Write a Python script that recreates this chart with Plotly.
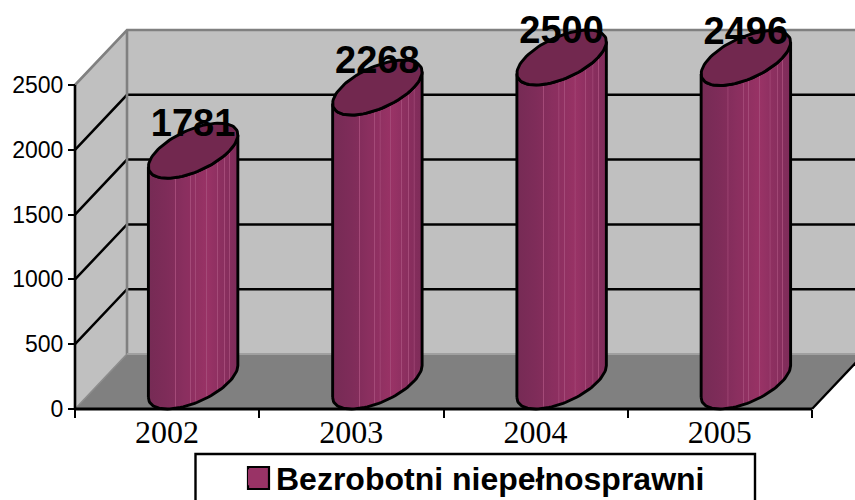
import numpy as np
import plotly.graph_objects as go

categories = ["2002", "2003", "2004", "2005"]
series_name = "Bezrobotni niepełnosprawni"
values = [1781, 2268, 2500, 2496]
y_ticks = [0, 500, 1000, 1500, 2000, 2500]

W, H = 855, 500
PX_CAT = 184.25      # px per category
PX_VAL = 0.1296      # px per value unit
X0, Y0 = 75, 409     # pixel position of the origin
DX = 52 / PX_CAT     # oblique depth
DY = 55 / PX_VAL
n = len(categories)
ymax = y_ticks[-1]
xr = [-X0 / PX_CAT, (W - X0) / PX_CAT]
yr = [-(H - Y0) / PX_VAL, Y0 / PX_VAL]
RX = 36.4 / PX_CAT
SX, SY = DX / 2, DY / 2
WIDE = float(np.hypot(RX, SX))
T0 = float(np.arctan2(SX, RX))
LABEL_DROP = 3.5 / PX_VAL

fig = go.Figure()


def poly(xs, ys, fill=None, line=None, lw=2):
    fig.add_trace(go.Scatter(
        x=xs, y=ys, mode="lines", showlegend=False, hoverinfo="skip",
        fill="toself" if fill else None, fillcolor=fill,
        line=dict(color=line or "rgba(0,0,0,0)", width=lw if line else 0)))


# walls and floor
poly([DX, n + DX, n + DX, DX, DX], [DY, DY, ymax + DY, ymax + DY, DY], "#C0C0C0")
poly([0, DX, DX, 0, 0], [0, DY, ymax + DY, ymax, 0], "#C0C0C0")
poly([0, n, n + DX, DX, 0], [0, 0, DY, DY, 0], "#808080")

# grid lines on the side and back walls
for t in y_ticks[1:-1]:
    poly([0, DX, n + DX], [t, t + DY, t + DY], line="#000000", lw=2.5)

# wall edges
poly([0, DX, n + DX], [ymax, ymax + DY, ymax + DY], line="#808080", lw=2.6)
poly([DX, DX], [DY, ymax + DY], line="#808080", lw=2.6)
poly([DX, n + DX], [DY, DY], line="#A0A0A0", lw=2)
poly([0, DX], [0, DY], line="#8c8c8c", lw=1.6)
poly([n, n + DX], [0, DY], line="#000000", lw=2.4)
poly([0, 0], [0, ymax], line="#000000", lw=2.6)
poly([0, n], [0, 0], line="#000000", lw=2.8)

# cylinder shading, left to right across the body
base = [(0.0, "#762B55"), (0.2, "#7E2C59"), (0.4, "#8A2F5F"),
        (0.66, "#993366"), (0.9, "#862E5D"), (1.0, "#7E2C59")]
stripe = "#A44A78"
stripe_pos = [0.30, 0.47, 0.53, 0.65, 0.77, 0.85, 0.91]


def shade_at(u):
    us = [b[0] for b in base]
    rgb = [[int(b[1][i:i + 2], 16) for i in (1, 3, 5)] for b in base]
    c = [int(np.interp(u, us, [r[k] for r in rgb])) for k in range(3)]
    return "rgb(%d,%d,%d)" % tuple(c)


scale = []
plain = [b[0] for b in base if b[0] not in stripe_pos]
marks = [(u, False) for u in plain]
for s in stripe_pos:
    marks += [(s - 0.007, False), (s - 0.003, True), (s + 0.003, True), (s + 0.007, False)]
for u, on in sorted(marks):
    scale.append([u, stripe if on else shade_at(u)])

for i, v in enumerate(values):
    cx = i + 0.5 + DX / 2
    t = np.linspace(T0 + np.pi, T0 + 2 * np.pi, 50)
    ax = cx + RX * np.cos(t) + SX * np.sin(t)
    ay = SY + SY * np.sin(t)
    xs = np.concatenate([ax, ax[::-1], ax[:1]])
    ys = np.concatenate([ay, (ay + v)[::-1], ay[:1]])
    fig.add_trace(go.Scatter(
        x=xs, y=ys, mode="lines", fill="toself", showlegend=False, hoverinfo="skip",
        fillgradient=dict(type="horizontal", colorscale=scale,
                          start=cx - WIDE, stop=cx + WIDE),
        line=dict(color="#000000", width=2.9)))
    t = np.linspace(0, 2 * np.pi, 90)
    poly(cx + RX * np.cos(t) + SX * np.sin(t), v + SY + SY * np.sin(t),
         "#72284F", "#000000", 2.9)

# data labels
fig.add_trace(go.Scatter(
    x=[i + 0.5 + DX / 2 for i in range(n)], y=[v + DY - LABEL_DROP for v in values],
    text=[str(v) for v in values], mode="text", showlegend=False, hoverinfo="skip",
    cliponaxis=False,
    textfont=dict(family="Liberation Sans", size=38, color="#000000", weight="bold")))

# legend entry: its key sits on the larger outlined swatch drawn as a shape below
fig.add_trace(go.Scatter(
    x=[None], y=[None], mode="markers", name=series_name,
    marker=dict(symbol="square", size=16, color="#993366",
                line=dict(color="#993366", width=0))))

fig.add_shape(type="rect", xref="paper", yref="paper",
              x0=195.5 / W, x1=755 / W, y0=-0.02, y1=1 - 454 / H,
              line=dict(color="#000000", width=2.4), fillcolor="rgba(0,0,0,0)", layer="above")
fig.add_shape(type="rect", xref="paper", yref="paper",
              x0=248 / W, x1=269 / W, y0=1 - 489 / H, y1=1 - 467 / H,
              line=dict(color="#000000", width=2.2), fillcolor="#993366", layer="above")

fig.update_layout(
    width=W, height=H, margin=dict(l=0, r=0, t=0, b=0, pad=0, autoexpand=False),
    paper_bgcolor="#FFFFFF", plot_bgcolor="#FFFFFF",
    showlegend=True,
    legend=dict(x=236 / W, y=1 - 477.5 / H, xanchor="left", yanchor="middle",
                bgcolor="rgba(0,0,0,0)", borderwidth=0,
                font=dict(family="Liberation Sans", size=32, color="#000000", weight="bold")),
    xaxis=dict(range=xr, anchor="free", position=1 - Y0 / H, showgrid=False, zeroline=False,
               tickmode="array", tickvals=[i + 0.5 for i in range(n)], ticktext=categories,
               ticks="outside", ticklen=0, tickwidth=0,
               minor=dict(tickmode="array", tickvals=list(range(n + 1)), ticks="outside",
                          ticklen=8, tickwidth=2, tickcolor="#000000"),
               tickfont=dict(family="Liberation Serif", size=32, color="#000000"),
               automargin=False, ticklabelstandoff=-5),
    yaxis=dict(range=yr, anchor="free", position=X0 / W, showgrid=False, zeroline=False,
               tickmode="array", tickvals=y_ticks,
               ticks="outside", ticklen=7, tickwidth=2, tickcolor="#000000",
               tickfont=dict(family="Liberation Sans", size=23, color="#000000"),
               automargin=False),
)

fig.write_html("out.html", config={"displayModeBar": False},
               post_script="document.body.style.margin='0';document.documentElement.style.overflow='hidden';")
